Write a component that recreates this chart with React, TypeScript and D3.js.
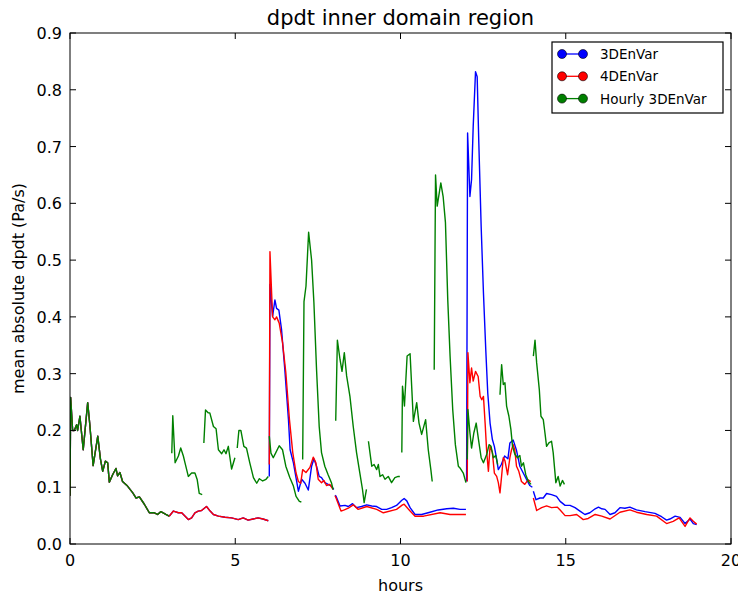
import React from "react";
import * as d3 from "d3";

type P = [number, number];

const title = "dpdt inner domain region";
const xLabel = "hours";
const yLabel = "mean absolute dpdt (Pa/s)";
const xTicks = [0, 5, 10, 15, 20];
const yTicks = [0, 0.1, 0.2, 0.3, 0.4, 0.5, 0.6, 0.7, 0.8, 0.9];
const seriesNames = ["3DEnVar", "4DEnVar", "Hourly 3DEnVar"];
const seriesColors = ["#0000ff", "#ff0000", "#008000"];

// 0-3 h: all three experiments identical
const shared0to3: P[] = [
  [0, 0.085], [0.02, 0.258], [0.08, 0.2], [0.13, 0.2], [0.2, 0.21], [0.23, 0.2], [0.3, 0.225],
  [0.4, 0.166], [0.535, 0.249], [0.6, 0.21], [0.7, 0.138], [0.84, 0.19], [0.92, 0.15], [0.99, 0.128],
  [1.07, 0.146], [1.14, 0.143], [1.19, 0.109], [1.29, 0.122], [1.39, 0.133], [1.44, 0.12], [1.51, 0.126],
  [1.59, 0.11], [1.74, 0.102], [1.9, 0.09], [2.0, 0.081], [2.1, 0.083], [2.25, 0.07], [2.4, 0.055],
  [2.55, 0.055], [2.65, 0.052], [2.75, 0.057], [2.9, 0.052], [3.0, 0.049],
];

// 3DEnVar / 4DEnVar 3-6 h (overlapping)
const cyc3to6: P[] = [
  [3.0, 0.049], [3.13, 0.058], [3.28, 0.055], [3.38, 0.055], [3.58, 0.043], [3.68, 0.046], [3.78, 0.055],
  [3.88, 0.058], [3.98, 0.059], [4.13, 0.066], [4.24, 0.058], [4.34, 0.052], [4.49, 0.049], [4.69, 0.047],
  [4.89, 0.046], [5.09, 0.043], [5.24, 0.046], [5.39, 0.042], [5.54, 0.044], [5.69, 0.046], [5.84, 0.044],
  [6.0, 0.041],
];

const blue6to8: P[] = [
  [6.03, 0.119], [6.05, 0.457], [6.13, 0.401], [6.2, 0.43], [6.25, 0.415], [6.32, 0.412], [6.4, 0.378],
  [6.5, 0.307], [6.61, 0.219], [6.66, 0.166], [6.76, 0.143], [6.91, 0.093], [7.01, 0.114], [7.11, 0.107],
  [7.21, 0.095], [7.31, 0.137], [7.38, 0.15], [7.46, 0.137], [7.54, 0.119], [7.61, 0.117], [7.71, 0.108],
  [7.81, 0.105], [7.91, 0.102], [7.98, 0.096],
];
const red6to8: P[] = [
  [6.03, 0.14], [6.05, 0.515], [6.13, 0.4], [6.2, 0.395], [6.25, 0.4], [6.33, 0.389], [6.43, 0.355],
  [6.53, 0.302], [6.64, 0.219], [6.74, 0.161], [6.84, 0.125], [6.91, 0.11], [6.98, 0.107], [7.04, 0.131],
  [7.14, 0.126], [7.26, 0.135], [7.36, 0.153], [7.44, 0.143], [7.51, 0.114], [7.61, 0.108], [7.68, 0.112],
  [7.76, 0.103], [7.86, 0.105], [7.96, 0.096],
];

const blue8to12: P[] = [
  [8.02, 0.086], [8.05, 0.084], [8.17, 0.067], [8.32, 0.068], [8.42, 0.066], [8.55, 0.071], [8.67, 0.064],
  [8.82, 0.066], [8.98, 0.069], [9.13, 0.067], [9.28, 0.066], [9.43, 0.061], [9.58, 0.061], [9.73, 0.064],
  [9.88, 0.068], [10.04, 0.077], [10.11, 0.08], [10.19, 0.076], [10.29, 0.064], [10.44, 0.052],
  [10.64, 0.052], [10.89, 0.056], [11.14, 0.06], [11.4, 0.062], [11.6, 0.063], [11.8, 0.061], [11.98, 0.061],
];
const red8to12: P[] = [
  [8.02, 0.085], [8.05, 0.081], [8.2, 0.058], [8.3, 0.06], [8.42, 0.063], [8.57, 0.069], [8.72, 0.061],
  [8.98, 0.066], [9.28, 0.061], [9.48, 0.055], [9.88, 0.061], [10.06, 0.069], [10.11, 0.07], [10.29, 0.058],
  [10.44, 0.049], [10.7, 0.049], [11.2, 0.055], [11.5, 0.052], [11.98, 0.052],
];

const blue12to14: P[] = [
  [12.0, 0.11], [12.03, 0.724], [12.1, 0.612], [12.15, 0.642], [12.2, 0.736], [12.27, 0.832], [12.32, 0.823],
  [12.37, 0.706], [12.44, 0.56], [12.51, 0.442], [12.58, 0.342], [12.64, 0.266], [12.71, 0.213],
  [12.78, 0.184], [12.84, 0.172], [12.91, 0.149], [12.96, 0.131], [13.05, 0.14], [13.15, 0.155],
  [13.25, 0.15], [13.31, 0.178], [13.41, 0.183], [13.51, 0.165], [13.61, 0.137], [13.81, 0.114],
  [13.91, 0.103], [13.99, 0.1],
];
const red12to14: P[] = [
  [12.02, 0.11], [12.04, 0.337], [12.1, 0.284], [12.15, 0.31], [12.2, 0.287], [12.27, 0.304], [12.35, 0.295],
  [12.41, 0.26], [12.46, 0.254], [12.51, 0.26], [12.56, 0.213], [12.61, 0.161], [12.66, 0.128], [12.71, 0.172],
  [12.78, 0.161], [12.84, 0.125], [12.91, 0.119], [12.96, 0.108], [13.01, 0.09], [13.06, 0.12], [13.11, 0.152],
  [13.16, 0.147], [13.24, 0.122], [13.31, 0.152], [13.36, 0.166], [13.41, 0.175], [13.46, 0.165],
  [13.51, 0.137], [13.58, 0.128], [13.66, 0.11], [13.76, 0.105], [13.86, 0.113], [13.94, 0.11],
];

const blue14to19: P[] = [
  [14.02, 0.093], [14.1, 0.078], [14.22, 0.081], [14.32, 0.081], [14.42, 0.089], [14.57, 0.087],
  [14.72, 0.084], [14.83, 0.075], [14.98, 0.068], [15.13, 0.068], [15.28, 0.064], [15.43, 0.058],
  [15.58, 0.052], [15.73, 0.055], [15.89, 0.062], [15.99, 0.065], [16.09, 0.062], [16.19, 0.061],
  [16.34, 0.052], [16.49, 0.055], [16.64, 0.064], [16.79, 0.063], [16.94, 0.065], [17.14, 0.06],
  [17.4, 0.057], [17.7, 0.054], [17.9, 0.048], [18.05, 0.042], [18.15, 0.044], [18.31, 0.049],
  [18.46, 0.047], [18.61, 0.036], [18.76, 0.044], [18.86, 0.036], [18.96, 0.034],
];
const red14to19: P[] = [
  [14.02, 0.081], [14.12, 0.059], [14.27, 0.064], [14.42, 0.067], [14.57, 0.064], [14.74, 0.065],
  [14.83, 0.06], [14.98, 0.05], [15.13, 0.05], [15.33, 0.052], [15.53, 0.043], [15.68, 0.045],
  [15.89, 0.052], [16.09, 0.049], [16.34, 0.044], [16.64, 0.056], [16.94, 0.06], [17.14, 0.056],
  [17.45, 0.052], [17.75, 0.049], [18.05, 0.036], [18.25, 0.04], [18.43, 0.046], [18.61, 0.031],
  [18.76, 0.046], [18.86, 0.04], [18.96, 0.035],
];

// Hourly 3DEnVar cycles
const green3to4: P[] = [
  [3.08, 0.16], [3.11, 0.226], [3.18, 0.143], [3.28, 0.155], [3.35, 0.169], [3.43, 0.155], [3.48, 0.143],
  [3.58, 0.119], [3.68, 0.125], [3.78, 0.125], [3.85, 0.113], [3.91, 0.089], [4.0, 0.087],
];
const green4to5: P[] = [
  [4.05, 0.178], [4.1, 0.236], [4.18, 0.231], [4.23, 0.231], [4.34, 0.207], [4.42, 0.203], [4.49, 0.166],
  [4.59, 0.159], [4.66, 0.166], [4.72, 0.159], [4.79, 0.172], [4.89, 0.132], [4.99, 0.152],
];
const green5to6: P[] = [
  [5.06, 0.169], [5.11, 0.2], [5.17, 0.2], [5.26, 0.172], [5.34, 0.169], [5.44, 0.143], [5.55, 0.117],
  [5.65, 0.107], [5.73, 0.115], [5.83, 0.111], [5.93, 0.114], [6.0, 0.119],
];
const green6to7: P[] = [
  [6.03, 0.19], [6.08, 0.16], [6.15, 0.152], [6.22, 0.16], [6.33, 0.173], [6.43, 0.166], [6.53, 0.137],
  [6.65, 0.117], [6.76, 0.102], [6.84, 0.084], [6.94, 0.075], [7.0, 0.074],
];
const green7to8: P[] = [
  [7.04, 0.149], [7.08, 0.427], [7.14, 0.454], [7.22, 0.549], [7.31, 0.5], [7.38, 0.425], [7.46, 0.307],
  [7.54, 0.207], [7.61, 0.161], [7.71, 0.137], [7.81, 0.122], [7.91, 0.108], [7.96, 0.096],
];
const green8to9: P[] = [
  [8.04, 0.217], [8.09, 0.359], [8.17, 0.325], [8.23, 0.304], [8.3, 0.337], [8.37, 0.296], [8.47, 0.26],
  [8.57, 0.207], [8.67, 0.161], [8.77, 0.125], [8.85, 0.096], [8.9, 0.073], [8.97, 0.096],
];
const green9to10: P[] = [
  [9.03, 0.181], [9.13, 0.137], [9.2, 0.14], [9.28, 0.131], [9.33, 0.14], [9.38, 0.119], [9.46, 0.122],
  [9.53, 0.114], [9.63, 0.119], [9.73, 0.108], [9.83, 0.117], [9.93, 0.119], [9.98, 0.119],
];
const green10to11: P[] = [
  [10.04, 0.161], [10.06, 0.278], [10.12, 0.243], [10.2, 0.331], [10.29, 0.335], [10.39, 0.216],
  [10.49, 0.249], [10.56, 0.213], [10.64, 0.193], [10.76, 0.219], [10.84, 0.166], [10.92, 0.13], [10.96, 0.11],
];
const green11to12: P[] = [
  [11.02, 0.307], [11.06, 0.65], [11.11, 0.595], [11.22, 0.636], [11.29, 0.612], [11.36, 0.566],
  [11.43, 0.43], [11.5, 0.331], [11.58, 0.237], [11.66, 0.175], [11.75, 0.137], [11.8, 0.134],
  [11.9, 0.125], [11.98, 0.108],
];
const green12to13: P[] = [
  [12.02, 0.149], [12.04, 0.237], [12.1, 0.196], [12.15, 0.169], [12.22, 0.196], [12.29, 0.213],
  [12.36, 0.184], [12.44, 0.152], [12.51, 0.143], [12.61, 0.158], [12.68, 0.175], [12.74, 0.172],
  [12.81, 0.152], [12.88, 0.156], [12.94, 0.14],
];
const green13to14: P[] = [
  [13.01, 0.263], [13.06, 0.316], [13.11, 0.281], [13.16, 0.284], [13.21, 0.243], [13.28, 0.225],
  [13.34, 0.202], [13.39, 0.172], [13.46, 0.158], [13.54, 0.152], [13.61, 0.156], [13.66, 0.137],
  [13.72, 0.143], [13.79, 0.122], [13.87, 0.11], [13.95, 0.105],
];
const green14to15: P[] = [
  [14.02, 0.331], [14.07, 0.359], [14.12, 0.319], [14.2, 0.272], [14.25, 0.225], [14.32, 0.219],
  [14.37, 0.196], [14.42, 0.172], [14.49, 0.178], [14.57, 0.181], [14.62, 0.161], [14.7, 0.108],
  [14.77, 0.119], [14.83, 0.102], [14.9, 0.112], [14.96, 0.105],
];

const envar3Segments: P[][] = [shared0to3, cyc3to6, blue6to8, blue8to12, blue12to14, blue14to19];
const envar4Segments: P[][] = [shared0to3, cyc3to6, red6to8, red8to12, red12to14, red14to19];
const hourlySegments: P[][] = [
  shared0to3, green3to4, green4to5, green5to6, green6to7, green7to8, green8to9, green9to10,
  green10to11, green11to12, green12to13, green13to14, green14to15,
];
const allSeries = [envar3Segments, envar4Segments, hourlySegments];

const W = 738;
const H = 594;
const M = { left: 70, right: 7, top: 33, bottom: 50 };
const FONT = "'DejaVu Sans', sans-serif";

export default function App() {
  const x = d3.scaleLinear().domain([0, 20]).range([M.left, W - M.right]);
  const y = d3.scaleLinear().domain([0, 0.9]).range([H - M.bottom, M.top]);
  const line = d3
    .line<P>()
    .x((d) => x(d[0]))
    .y((d) => y(d[1]));
  const x0 = M.left;
  const x1 = W - M.right;
  const y0 = H - M.bottom;
  const y1 = M.top;
  const tl = 6;

  const legX = 552;
  const legY = 42;
  const legW = 171;
  const legH = 71;
  const rowGap = 22.3;

  return (
    <svg
      width={W}
      height={H}
      style={{ position: "absolute", left: 0, top: 0, background: "#fff" }}
      fontFamily={FONT}
    >
      <rect x={0} y={0} width={W} height={H} fill="#fff" />
      <defs>
        <clipPath id="plotclip">
          <rect x={x0} y={y1} width={x1 - x0} height={y0 - y1} />
        </clipPath>
      </defs>
      <g clipPath="url(#plotclip)">
        {allSeries.map((segs, si) =>
          segs.map((seg, k) => (
            <path
              key={`${si}-${k}`}
              d={line(seg) || ""}
              fill="none"
              stroke={seriesColors[si]}
              strokeWidth={1.4}
              strokeLinejoin="round"
            />
          ))
        )}
      </g>
      {/* frame */}
      <rect x={x0} y={y1} width={x1 - x0} height={y0 - y1} fill="none" stroke="#000" strokeWidth={1} />
      {/* x ticks */}
      {xTicks.map((t) => (
        <g key={`xt${t}`}>
          <line x1={x(t)} x2={x(t)} y1={y0} y2={y0 - tl} stroke="#000" />
          <line x1={x(t)} x2={x(t)} y1={y1} y2={y1 + tl} stroke="#000" />
          <text x={x(t)} y={y0 + 22} textAnchor="middle" fontSize={16} fill="#000">
            {t}
          </text>
        </g>
      ))}
      {yTicks.map((t) => (
        <g key={`yt${t}`}>
          <line x1={x0} x2={x0 + tl} y1={y(t)} y2={y(t)} stroke="#000" />
          <line x1={x1} x2={x1 - tl} y1={y(t)} y2={y(t)} stroke="#000" />
          <text x={x0 - 8} y={y(t) + 6} textAnchor="end" fontSize={16} fill="#000">
            {t.toFixed(1)}
          </text>
        </g>
      ))}
      <text x={(x0 + x1) / 2} y={25} textAnchor="middle" fontSize={21} fill="#000">
        {title}
      </text>
      <text x={(x0 + x1) / 2} y={591} textAnchor="middle" fontSize={16} fill="#000">
        {xLabel}
      </text>
      <text
        transform={`translate(24,${(y0 + y1) / 2}) rotate(-90)`}
        textAnchor="middle"
        fontSize={16}
        fill="#000"
      >
        {yLabel}
      </text>
      {/* legend */}
      <rect x={legX} y={legY} width={legW} height={legH} fill="#fff" stroke="#000" strokeWidth={1.2} />
      {seriesNames.map((name, i) => {
        const cy = legY + 12 + i * rowGap;
        return (
          <g key={name}>
            <line x1={legX + 10} x2={legX + 31} y1={cy} y2={cy} stroke={seriesColors[i]} strokeWidth={1.3} />
            <circle cx={legX + 10} cy={cy} r={4.5} fill={seriesColors[i]} stroke="#000" strokeWidth={0.6} />
            <circle cx={legX + 31} cy={cy} r={4.5} fill={seriesColors[i]} stroke="#000" strokeWidth={0.6} />
            <text x={legX + 48} y={cy + 5} fontSize={13.5} fill="#000">
              {name}
            </text>
          </g>
        );
      })}
    </svg>
  );
}
